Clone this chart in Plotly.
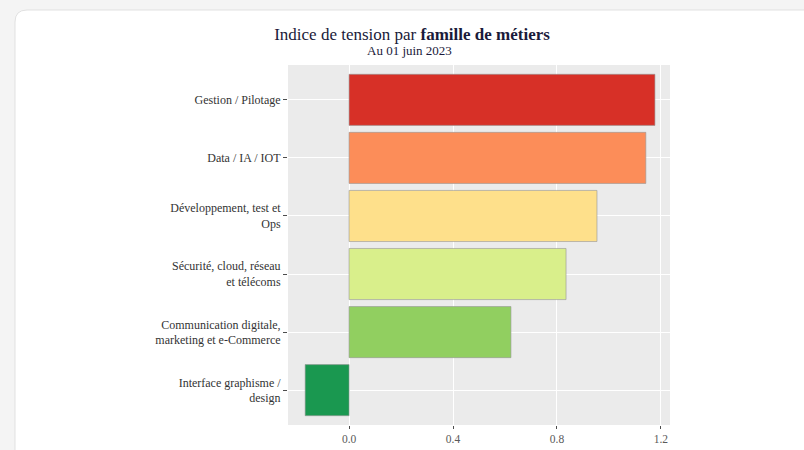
import plotly.graph_objects as go

categories = [
    "Gestion / Pilotage",
    "Data / IA / IOT",
    "Développement, test et<br>Ops",
    "Sécurité, cloud, réseau<br>et télécoms",
    "Communication digitale,<br>marketing et e-Commerce",
    "Interface graphisme /<br>design",
]
values = [1.177, 1.142, 0.954, 0.835, 0.623, -0.169]
colors = ["#d73027", "#fc8d59", "#fee08b", "#d9ef8b", "#91cf60", "#1a9850"]
x_ticks = [0.0, 0.4, 0.8, 1.2]
x_ticklabels = ["0.0", "0.4", "0.8", "1.2"]
title_text = "Indice de tension par <b>famille de métiers</b>"
subtitle_text = "Au 01 juin 2023"

W, H = 804, 450
L, R, T, B = 288, 134, 65, 25
pw, ph = W - L - R, H - T - B

def px(x):
    return (x - L) / pw

def py(y):
    return (H - B - y) / ph

fig = go.Figure()
fig.add_trace(go.Bar(
    x=values, y=categories, orientation="h",
    marker=dict(color=colors, line=dict(color="rgba(150,150,150,0.6)", width=1)),
    width=0.88, showlegend=False,
))

# page background around the white card (top and left strips, rounded corner)
page = "#f4f4f4"
cx, cy, r = 15, 10, 12
fig.add_shape(type="rect", xref="paper", yref="paper",
              x0=px(-5), x1=px(W + 5), y0=py(-5), y1=py(cy),
              fillcolor=page, line=dict(width=0), layer="above")
fig.add_shape(type="rect", xref="paper", yref="paper",
              x0=px(-5), x1=px(cx), y0=py(-5), y1=py(H + 5),
              fillcolor=page, line=dict(width=0), layer="above")
corner = (f"M {px(cx)} {py(cy)} L {px(cx + r)} {py(cy)} "
          f"Q {px(cx)} {py(cy)} {px(cx)} {py(cy + r)} Z")
fig.add_shape(type="path", path=corner, xref="paper", yref="paper",
              fillcolor=page, line=dict(width=0), layer="above")
edge = (f"M {px(cx)} {py(H + 5)} L {px(cx)} {py(cy + r)} "
        f"Q {px(cx)} {py(cy)} {px(cx + r)} {py(cy)} L {px(W + 5)} {py(cy)}")
fig.add_shape(type="path", path=edge, xref="paper", yref="paper",
              line=dict(width=1, color="rgba(225,225,225,1)"), layer="above")

fig.add_annotation(
    text=subtitle_text, xref="paper", yref="paper",
    x=px(409), y=py(51), xanchor="center", yanchor="middle", showarrow=False,
    font=dict(size=13, color="#1a1a3a", family="Liberation Serif, Times New Roman, serif"),
)

fig.update_layout(
    width=W, height=H,
    margin=dict(l=L, r=R, t=T, b=B, autoexpand=False),
    paper_bgcolor="white",
    plot_bgcolor="#ebebeb",
    font=dict(family="Liberation Serif, Times New Roman, serif", color="#333333", size=12),
    title=dict(
        text=title_text,
        x=412 / W, xanchor="center", xref="container",
        y=1 - 34 / H, yanchor="middle", yref="container",
        font=dict(color="#1a1a3a", family="Liberation Serif, Times New Roman, serif", size=17),
    ),
    xaxis=dict(
        range=[-0.235, 1.235], tickvals=x_ticks, ticktext=x_ticklabels,
        showgrid=True, gridcolor="white", gridwidth=1.2, zeroline=False,
        ticks="outside", ticklen=3, tickcolor="#4d4d4d",
        automargin=False,
        tickfont=dict(size=11.5, color="#5a5a5a"),
    ),
    yaxis=dict(
        range=[5.6, -0.6], autorange=False, automargin=False,
        showgrid=True, gridcolor="white", gridwidth=1.2,
        ticks="outside", ticklen=4, tickcolor="#4d4d4d",
        tickfont=dict(size=12, color="#333333"),
    ),
)

fig.write_html("out.html")
